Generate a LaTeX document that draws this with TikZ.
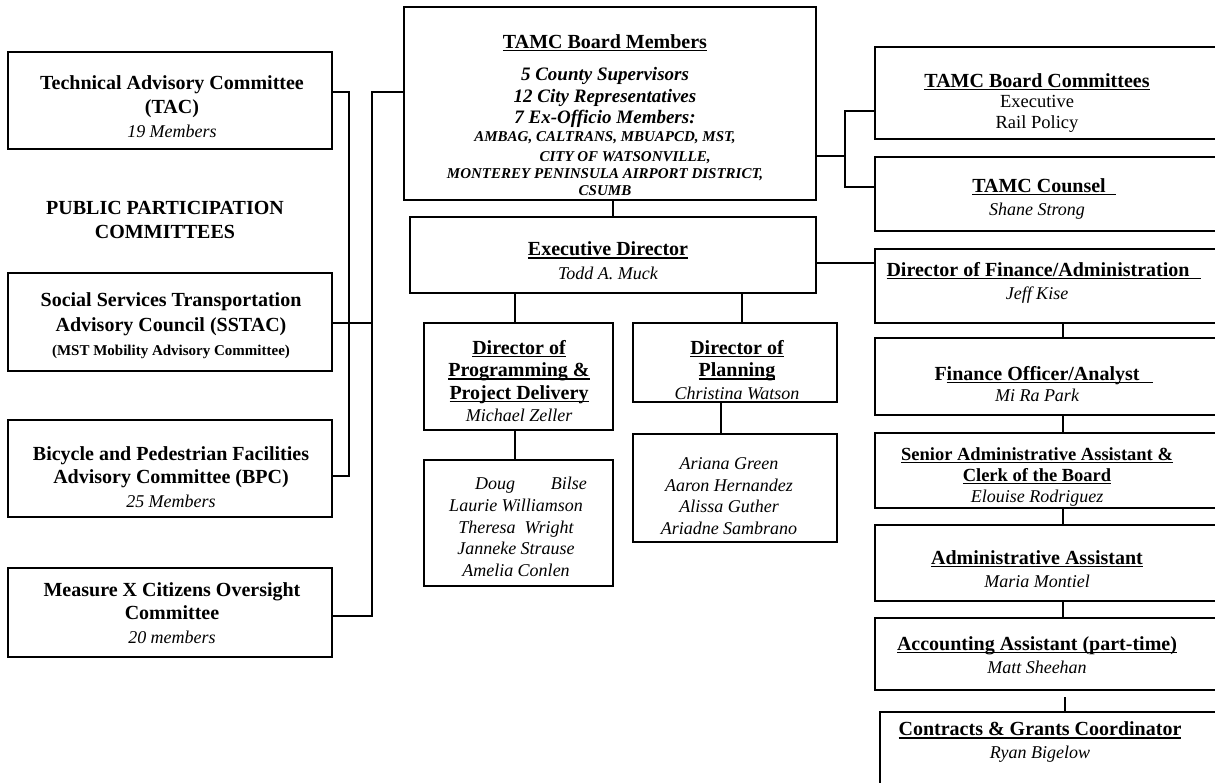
\documentclass[tikz,border=0pt]{standalone}
\usepackage{fontspec}
\setmainfont{Liberation Serif}
\usetikzlibrary{calc}
\tikzset{
  box/.style={draw, line width=2pt, rectangle, inner sep=0pt, outer sep=0pt},
  conn/.style={line width=1.2pt},
  txt/.style={align=center, inner sep=0pt},
}
\newcommand\nm[1]{{\itshape\fontsize{18}{22}\selectfont #1}}
\newsavebox\myulbox
\newcommand\ul[1]{\sbox\myulbox{#1}\rlap{\rule[-2.8pt]{\wd\myulbox}{1.3pt}}\usebox\myulbox}
\begin{document}
\begin{tikzpicture}[x=1pt,y=-1pt]
\useasboundingbox (0,0) rectangle (1215,782);
\fill[white] (0,0) rectangle (1215,782);
\clip (0,0) rectangle (1215,782);

% ---------- boxes ----------
\node[box, minimum width=324pt, minimum height=97pt] (tac) at (170,100.5) {};
\node[box, minimum width=324pt, minimum height=98pt] (ss) at (170,322) {};
\node[box, minimum width=324pt, minimum height=97pt] (bpc) at (170,468.5) {};
\node[box, minimum width=324pt, minimum height=89pt] (mx) at (170,612.5) {};
\node[box, minimum width=412pt, minimum height=193pt] (board) at (610,103.5) {};
\node[box, minimum width=406pt, minimum height=76pt] (exec) at (613,255) {};
\node[box, minimum width=189pt, minimum height=107pt] (prog) at (518.5,376.5) {};
\node[box, minimum width=204pt, minimum height=79pt] (plan) at (735,362.5) {};
\node[box, minimum width=189pt, minimum height=126pt] (progstaff) at (518.5,523) {};
\node[box, minimum width=204pt, minimum height=108pt] (planstaff) at (735,488) {};
\node[box, minimum width=370pt, minimum height=92pt] (comm) at (1060,93) {};
\node[box, minimum width=370pt, minimum height=74pt] (counsel) at (1060,194) {};
\node[box, minimum width=370pt, minimum height=74pt] (dirfin) at (1060,286) {};
\node[box, minimum width=370pt, minimum height=77pt] (finoff) at (1060,376.5) {};
\node[box, minimum width=370pt, minimum height=75pt] (senior) at (1060,470.5) {};
\node[box, minimum width=370pt, minimum height=76pt] (admin) at (1060,563) {};
\node[box, minimum width=370pt, minimum height=72pt] (acct) at (1060,654) {};
\node[box, minimum width=370pt, minimum height=108pt] (contracts) at (1065,766) {};

% ---------- texts ----------
\node[txt, font=\fontsize{20}{24}\selectfont] (t-tac) at (172,107)
  {\textbf{Technical Advisory Committee}\\\textbf{(TAC)}\\\nm{19 Members}};
\node[txt, font=\fontsize{20}{24}\selectfont\bfseries] (t-ppc) at (165,220)
  {PUBLIC PARTICIPATION\\COMMITTEES};
\node[txt, font=\fontsize{20}{24.5}\selectfont] (t-ss) at (171,326)
  {\textbf{Social Services Transportation}\\\textbf{Advisory Council (SSTAC)}\\{\bfseries\fontsize{15}{24.5}\selectfont (MST Mobility Advisory Committee)}};
\node[txt, font=\fontsize{20}{23.5}\selectfont] (t-bpc) at (171,477)
  {\textbf{Bicycle and Pedestrian Facilities}\\\textbf{Advisory Committee (BPC)}\\\nm{25 Members}};
\node[txt, font=\fontsize{20}{23.5}\selectfont] (t-mx) at (172,613)
  {\textbf{Measure X Citizens Oversight}\\\textbf{Committee}\\\nm{20 members}};

\node[txt, font=\fontsize{19}{21.5}\selectfont\bfseries\itshape] (t-board) at (605,115)
  {{\upshape\fontsize{20}{21.5}\selectfont\ul{TAMC Board Members}}\\[11pt]
   5 County Supervisors\\
   12 City Representatives\\
   7 Ex-Officio Members:\\[-3.5pt]
   {\fontsize{15}{18}\selectfont AMBAG, CALTRANS, MBUAPCD, MST,}\\[-2pt]
   {\fontsize{15}{18}\selectfont \hspace*{40pt}CITY OF WATSONVILLE,}\\[-4.5pt]
   {\fontsize{15}{18}\selectfont MONTEREY PENINSULA AIRPORT DISTRICT,}\\[-4.5pt]
   {\fontsize{15}{18}\selectfont CSUMB}};

\node[txt, font=\fontsize{20}{24}\selectfont] (t-exec) at (608,261)
  {\textbf{\ul{Executive Director}}\\\nm{Todd A. Muck}};
\node[txt, font=\fontsize{20}{22.5}\selectfont] (t-prog) at (519,381)
  {\textbf{\ul{Director of}}\\\textbf{\ul{Programming \&}}\\\textbf{\ul{Project Delivery}}\\\nm{Michael Zeller}};
\node[txt, font=\fontsize{20}{22.5}\selectfont] (t-plan) at (737,370)
  {\textbf{\ul{Director of}}\\\textbf{\ul{Planning}}\\\nm{Christina Watson}};
\node[txt, font=\fontsize{18}{21.75}\selectfont\itshape] (t-ps) at (516,527)
  {\hspace*{30pt}Doug\hspace{36pt}Bilse\\Laurie Williamson\\Theresa\ \ Wright\\Janneke Strause\\Amelia Conlen};
\node[txt, font=\fontsize{18}{21.5}\selectfont\itshape] (t-pls) at (729,496)
  {Ariana Green\\Aaron Hernandez\\Alissa Guther\\Ariadne Sambrano};

\node[txt, font=\fontsize{18.5}{20.5}\selectfont] (t-comm) at (1037,103)
  {{\bfseries\fontsize{20}{20.5}\selectfont\ul{TAMC Board Committees}}\\Executive\\Rail Policy};
\node[txt, font=\fontsize{20}{23}\selectfont] (t-counsel) at (1044,199)
  {\textbf{\ul{TAMC Counsel\hspace{10pt}}}\\\nm{\hspace*{-14pt}Shane Strong}};
\node[txt, font=\fontsize{20}{23}\selectfont] (t-dirfin) at (1044,283)
  {\textbf{\ul{Director of Finance/Administration\hspace{12pt}}}\\\nm{\hspace*{-14pt}Jeff Kise}};
\node[txt, font=\fontsize{20}{21.5}\selectfont] (t-finoff) at (1044,384)
  {\textbf{F\ul{inance Officer/Analyst\hspace{14pt}}}\\\nm{\hspace*{-14pt}Mi Ra Park}};
\node[txt, font=\fontsize{18.5}{21}\selectfont] (t-senior) at (1037,477)
  {\textbf{\ul{Senior Administrative Assistant \&}}\\\textbf{\ul{Clerk of the Board}}\\\nm{Elouise Rodriguez}};
\node[txt, font=\fontsize{20}{22.5}\selectfont] (t-admin) at (1037,569)
  {\textbf{\ul{Administrative Assistant}}\\\nm{Maria Montiel}};
\node[txt, font=\fontsize{20}{22.5}\selectfont] (t-acct) at (1037,655)
  {\textbf{\ul{Accounting Assistant (part-time)}}\\\nm{Matt Sheehan}};
\node[txt, font=\fontsize{20}{22.5}\selectfont] (t-contracts) at (1040,742)
  {\textbf{\ul{Contracts \& Grants Coordinator}}\\\nm{Ryan Bigelow}};

% ---------- connectors ----------
\coordinate (busA) at (349,0);
\coordinate (busB) at (372,0);
\coordinate (busC) at (845,0);
\coordinate (tacR) at ($(tac.east)+(0,-8.5)$);
\coordinate (bpcR) at ($(bpc.east)+(0,7.5)$);
\coordinate (mxR) at ($(mx.east)+(0,3.5)$);
\coordinate (ssR) at ($(ss.east)+(0,1)$);
\coordinate (bdL) at ($(board.west)+(0,-11.5)$);
\draw[conn] (tacR) -- (tacR -| busA) -- (bpcR -| busA) -- (bpcR);
\draw[conn] (ssR) -- (ssR -| busB);
\draw[conn] (bdL) -- (bdL -| busB) -- (mxR -| busB) -- (mxR);

\coordinate (bdR) at ($(board.east)+(0,52.5)$);
\coordinate (cmL) at ($(comm.west)+(0,18)$);
\coordinate (csL) at ($(counsel.west)+(0,-7)$);
\draw[conn] (bdR) -- (bdR -| busC);
\draw[conn] (cmL) -- (cmL -| busC) -- (csL -| busC) -- (csL);

\coordinate (exR) at ($(exec.east)+(0,8)$);
\draw[conn] (exR) -- (exR -| dirfin.west);

\coordinate (xb) at ($(board.south)+(3,0)$);
\draw[conn] (xb) -- (xb |- exec.north);
\coordinate (xp) at ($(prog.north)+(-3.5,0)$);
\draw[conn] (xp |- exec.south) -- (xp);
\coordinate (xl) at ($(plan.north)+(7,0)$);
\draw[conn] (xl |- exec.south) -- (xl);
\coordinate (xps) at ($(prog.south)+(-3.5,0)$);
\draw[conn] (xps) -- (xps |- progstaff.north);
\coordinate (xls) at ($(plan.south)+(-14,0)$);
\draw[conn] (xls) -- (xls |- planstaff.north);

\coordinate (rx) at ($(dirfin.south)+(3,0)$);
\draw[conn] (rx) -- (rx |- finoff.north);
\draw[conn] (rx |- finoff.south) -- (rx |- senior.north);
\draw[conn] (rx |- senior.south) -- (rx |- admin.north);
\draw[conn] (rx |- admin.south) -- (rx |- acct.north);
\coordinate (gapc) at ($(acct.south)+(5,7)$);
\draw[conn] (gapc) -- (gapc |- contracts.north);
\end{tikzpicture}
\end{document}
